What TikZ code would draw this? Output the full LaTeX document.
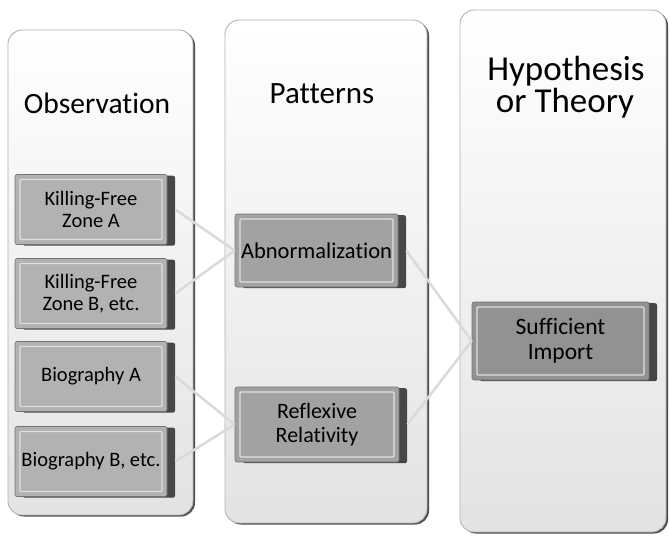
\documentclass[tikz,border=0pt]{standalone}
\usepackage{fontspec}
\setmainfont[Ligatures=NoCommon]{Carlito}
\definecolor{facel}{HTML}{B2B2B2}
\definecolor{facem}{HTML}{A2A2A2}
\definecolor{facer}{HTML}{929292}
\definecolor{linkc}{HTML}{DADADA}
\begin{document}
\begin{tikzpicture}[x=1pt,y=-1pt,
  panel/.style={rounded corners=14pt, draw=black!30, line width=0.9pt,
    top color=white, bottom color=black!11, inner sep=0pt,
    preaction={fill=black!70, transform canvas={xshift=2pt,yshift=-1.5pt}}},
  title/.style={inner sep=0pt, anchor=base, text=black},
  box/.style={draw=black!55, line width=0.6pt, fill=#1, rounded corners=2pt,
    inner sep=0pt, align=center, text=black,
    font=\fontsize{20.5}{22}\selectfont,
    preaction={fill=black!72, rounded corners=4pt, transform canvas={xshift=8pt,yshift=-1.2pt}},
    path picture={\draw[white!88!black, line width=1.2pt, rounded corners=1pt]
      ([shift={(5pt,-5pt)}]path picture bounding box.north west) rectangle
      ([shift={(-5pt,5pt)}]path picture bounding box.south east);}},
  link/.style={draw=linkc, line width=2.5pt}]
\useasboundingbox (0,0) rectangle (670,539);
\fill[white] (0,0) rectangle (670,539);
% panels
\node[panel, minimum width=185pt, minimum height=485pt] (pobs) at (100.5,272.5) {};
\node[panel, minimum width=202pt, minimum height=503pt] (ppat) at (326,271.5) {};
\node[panel, minimum width=206pt, minimum height=522pt] (phyp) at (563,271) {};
% titles
\node[title, font=\fontsize{29.5}{32}\selectfont] (tobs) at (97,113) {Observation};
\node[title, font=\fontsize{31}{32}\selectfont] (tpat) at (322,103) {Patterns};
\node[title, font=\fontsize{35}{32}\selectfont] (thyp1) at (566,80) {Hypothesis};
\node[title, font=\fontsize{35}{32}\selectfont] (thyp2) at (565,112) {or Theory};
% boxes
\node[box=facel, minimum width=152pt, minimum height=70pt] (b1) at (91,209.5) {Killing-Free\\Zone A};
\node[box=facel, minimum width=152pt, minimum height=70pt] (b2) at (91,293.5) {Killing-Free\\Zone B, etc.};
\node[box=facel, minimum width=152pt, minimum height=70pt] (b3) at (91,376.5) {Biography A};
\node[box=facel, minimum width=152pt, minimum height=70pt] (b4) at (91,461.5) {Biography B, etc.};
\node[box=facem, minimum width=163pt, minimum height=73pt, font=\fontsize{22.5}{24}\selectfont] (abn) at (316.5,250.5) {Abnormalization};
\node[box=facem, minimum width=164pt, minimum height=75pt, font=\fontsize{22}{24}\selectfont] (ref) at (317,424.5) {Reflexive\\Relativity};
\node[box=facer, minimum width=177pt, minimum height=78pt, font=\fontsize{23.5}{25}\selectfont] (suf) at (560.5,341) {Sufficient\\Import};
% connectors
\draw[link] ([xshift=8pt]b1.east) -- (abn.west);
\draw[link] ([xshift=8pt]b2.east) -- (abn.west);
\draw[link] ([xshift=8pt]b3.east) -- (ref.west);
\draw[link] ([xshift=8pt]b4.east) -- (ref.west);
\draw[link] ([xshift=8pt]abn.east) -- (suf.west);
\draw[link] ([xshift=8pt]ref.east) -- (suf.west);
\end{tikzpicture}
\end{document}
